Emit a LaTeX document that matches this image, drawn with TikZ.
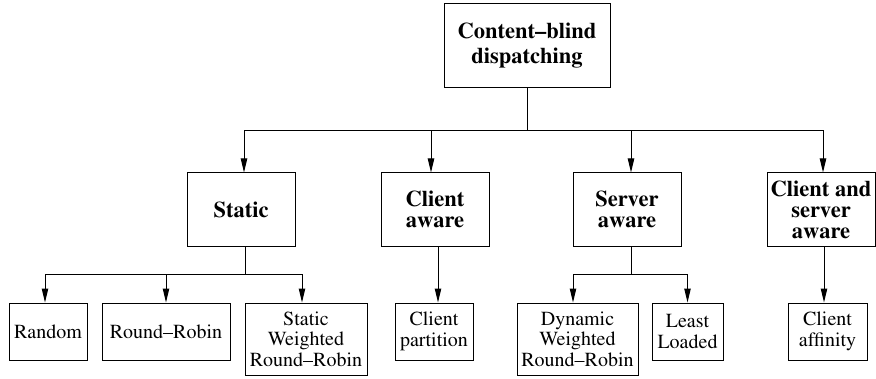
\documentclass[tikz,border=0pt]{standalone}
\usepackage[T1]{fontenc}
\usepackage{times}
\usetikzlibrary{arrows.meta}

\begin{document}
\begin{tikzpicture}[x=0.5pt, y=-0.5pt, line width=0.5pt,
    box/.style={draw, inner sep=0pt, align=center},
    rootbox/.style={box, minimum width=83pt, minimum height=42pt,
      font=\fontsize{11.25}{12.5}\selectfont\bfseries},
    kindbox/.style={box, minimum width=54pt, minimum height=36.5pt,
      font=\fontsize{11.25}{10.5}\selectfont\bfseries},
    leafbox/.style={box, minimum height=28.5pt,
      font=\fontsize{10}{10.25}\selectfont},
    tallleaf/.style={leafbox, minimum height=36pt},
    arr/.style={-{Triangle[length=7pt,width=3.2pt]}}]
    \useasboundingbox (0,0) rectangle (876,379);
    \node[rootbox] (root) at (527,46) {Content--blind\\dispatching};
    \node[kindbox] (static) at (241,209.5) {Static};
    \node[kindbox] (caware) at (435,209.5) {Client\\aware};
    \node[kindbox] (saware) at (627,209.5) {Server\\aware};
    \node[kindbox] (csaware) at (821,209.5) {Client and\\server\\aware};
    \node[leafbox, minimum width=39pt] (random) at (48,331.5) {Random};
    \node[leafbox, minimum width=64pt] (rrobin) at (166,331.5) {Round--Robin};
    \node[tallleaf, minimum width=61pt] (swrr) at (306,339) {Static\\Weighted\\Round--Robin};
    \node[leafbox, minimum width=39pt] (cpart) at (434,331.5) {Client\\partition};
    \node[tallleaf, minimum width=60.5pt] (dwrr) at (577.5,339) {Dynamic\\Weighted\\Round--Robin};
    \node[leafbox, minimum width=35.5pt] (lload) at (687.5,331.5) {Least\\Loaded};
    \node[leafbox, minimum width=39.5pt] (caff) at (827.5,331.5) {Client\\affinity};
    \coordinate (bar0) at (0,131);
    \coordinate (bar1) at (0,274);
    %
    \draw[arr] (root.south) -- (root.south |- bar0) -| ([xshift=1.5pt]static.north);
    \draw[arr] (root.south) -- (root.south |- bar0) -| ([xshift=-2pt]caware.north);
    \draw[arr] (root.south) -- (root.south |- bar0) -| ([xshift=2pt]saware.north);
    \draw[arr] (root.south) -- (root.south |- bar0) -| ([xshift=1pt]csaware.north);
    %
    \draw[arr] ([xshift=2pt]static.south) -- ([xshift=2pt]static.south |- bar1) -| ([xshift=-1.5pt]random.north);
    \draw[arr] ([xshift=2pt]static.south) -- ([xshift=2pt]static.south |- bar1) -| (rrobin.north);
    \draw[arr] ([xshift=2pt]static.south) -- ([xshift=2pt]static.south |- bar1) -| ([xshift=-2pt]swrr.north);
    \draw[arr] ([xshift=1.5pt]caware.south) -- ([xshift=1.5pt]caware.south |- cpart.north);
    \draw[arr] ([xshift=2pt]saware.south) -- ([xshift=2pt]saware.south |- bar1) -| ([xshift=-2.25pt]dwrr.north);
    \draw[arr] ([xshift=2pt]saware.south) -- ([xshift=2pt]saware.south |- bar1) -| (lload.north);
    \draw[arr] ([xshift=1.5pt]csaware.south) -- ([xshift=1.5pt]csaware.south |- caff.north);
\end{tikzpicture}
\end{document}
